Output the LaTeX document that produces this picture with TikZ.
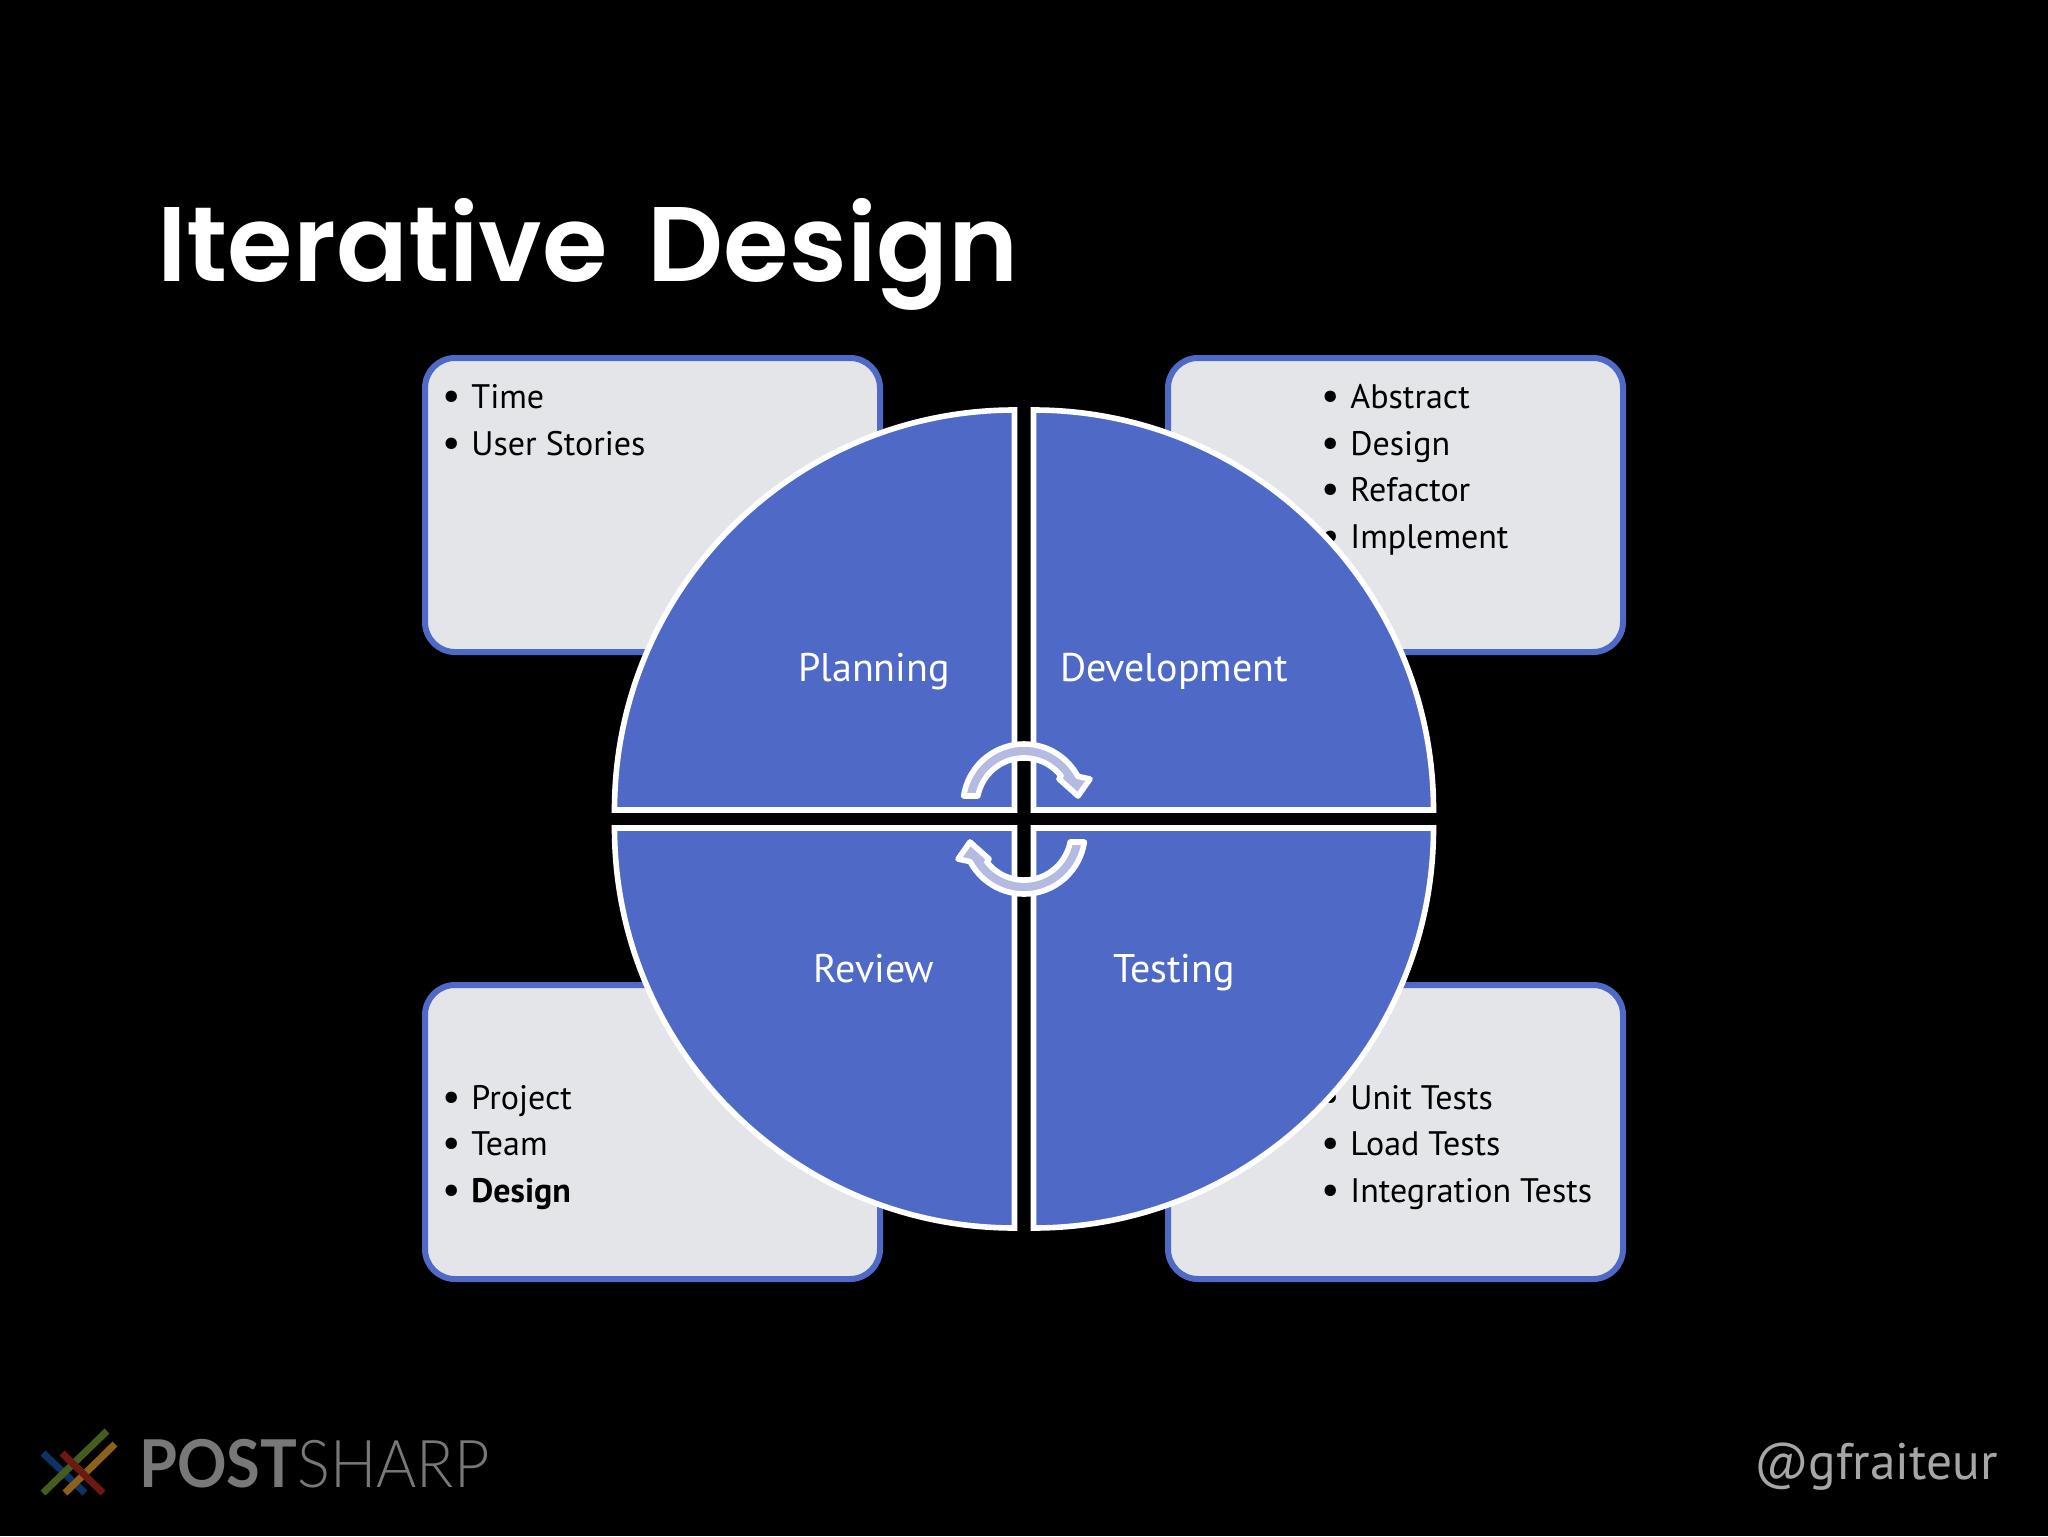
\documentclass[tikz,border=0pt]{standalone}
\usepackage{fontspec}
\setmainfont{PT Sans}
\newfontfamily\titlefont[WordSpace=1.6]{Poppins SemiBold}
\newfontfamily\logofont{Lato}
\newfontfamily\logolight{Lato Light}
\definecolor{slide}{HTML}{000000}
\definecolor{pieblue}{HTML}{4F69C6}
\definecolor{boxfill}{HTML}{E4E5E8}
\definecolor{arrowfill}{HTML}{B5BAE0}
\definecolor{dimgrey}{HTML}{787878}
\definecolor{handle}{HTML}{A6A6A6}
\tikzset{
  x=0.5pt,y=-0.5pt,
  infobox/.style={draw=pieblue,fill=boxfill,line width=3pt,rounded corners=15pt},
  quarter/.style={draw=white,fill=pieblue,line width=2.8pt,miter limit=10},
  cyclearrow/.style={draw=white,fill=arrowfill,line width=2.8pt,line join=round},
  item/.style={anchor=base west,inner sep=0pt,text=black,font=\fontsize{17}{22}\selectfont},
  phase/.style={anchor=base,inner sep=0pt,text=white,font=\fontsize{20}{24}\selectfont},
  logobar/.style={line width=3.5pt,line cap=butt},
}
\newcommand{\bul}{\llap{\raisebox{-0.6pt}{\scalebox{1.2}{\textbullet}}\hspace{5pt}}}
\newcommand{\cyclepath}{(963.7,796) arc[start angle=188.5,end angle=332,radius=61]
  -- (1090,779) -- (1078,796) -- (1059,779) -- (1061,776)
  arc[start angle=322,end angle=191,radius=47] -- cycle}
\begin{document}
\begin{tikzpicture}
\useasboundingbox (0,0) rectangle (2048,1536);
\fill[slide] (0,0) rectangle (2048,1536);
\node[anchor=base west,inner sep=0pt,text=white,font=\titlefont\fontsize{53}{60}\selectfont] (title) at (157,281) {Iterative Design};
% boxes
\draw[infobox] (425,358) rectangle (880,652);
\draw[infobox] (1168,358) rectangle (1623,652);
\draw[infobox] (425,985) rectangle (880,1279);
\draw[infobox] (1168,985) rectangle (1623,1279);
% box text
\node[item] (t1) at (471,408.3) {\bul Time};
\node[item] (t2) at (471,455) {\bul User Stories};
\node[item] (d1) at (1350,408.3) {\bul Abstract};
\node[item] (d2) at (1350,455) {\bul Design};
\node[item] (d3) at (1350,501.5) {\bul Refactor};
\node[item] (d4) at (1350,548) {\bul Implement};
\node[item] (r1) at (471,1109) {\bul Project};
\node[item] (r2) at (471,1155.5) {\bul Team};
\node[item] (r3) at (471,1202) {\bul \textbf{Design}};
\node[item] (u1) at (1350,1109) {\bul Unit Tests};
\node[item] (u2) at (1350,1155.5) {\bul Load Tests};
\node[item] (u3) at (1350,1202) {\bul Integration Tests};
% quarters
\draw[quarter] (1014.5,810) -- (614.5,810) arc[start angle=180,end angle=270,radius=400] -- cycle;
\draw[quarter] (1033.5,810) -- (1033.5,410) arc[start angle=270,end angle=360,radius=400] -- cycle;
\draw[quarter] (1014.5,828) -- (1014.5,1228) arc[start angle=90,end angle=180,radius=400] -- cycle;
\draw[quarter] (1033.5,828) -- (1433.5,828) arc[start angle=0,end angle=90,radius=400] -- cycle;
% cycle arrows
\draw[cyclearrow] \cyclepath;
\draw[cyclearrow,rotate around={180:(1024,819)}] \cyclepath;
% phase labels
\node[phase] (planning) at (874,681) {Planning};
\node[phase] (development) at (1174,681) {Development};
\node[phase] (review) at (874,982.5) {Review};
\node[phase] (testing) at (1174,982.5) {Testing};
% logo
\draw[logobar,color={rgb,255:red,14;green,50;blue,100}] (43,1453) -- (85,1493);
\draw[logobar,color={rgb,255:red,140;green,98;blue,24}] (115,1444) -- (65,1493);
\draw[logobar,color={rgb,255:red,68;green,92;blue,30}] (107,1431) -- (43,1493);
\draw[logobar,color={rgb,255:red,110;green,24;blue,18}] (62,1453) -- (103,1493);
\node[anchor=base west,inner sep=0pt,text=dimgrey,font=\fontsize{33}{36}\selectfont] (logo) at (139,1487) {\scalebox{0.93}[1]{{\logofont\bfseries POST}{\logolight SHARP}}};
\node[anchor=base east,inner sep=0pt,text=handle,font=\fontsize{25.7}{30}\selectfont] (handle) at (1998,1479) {@gfraiteur};
\end{tikzpicture}
\end{document}
